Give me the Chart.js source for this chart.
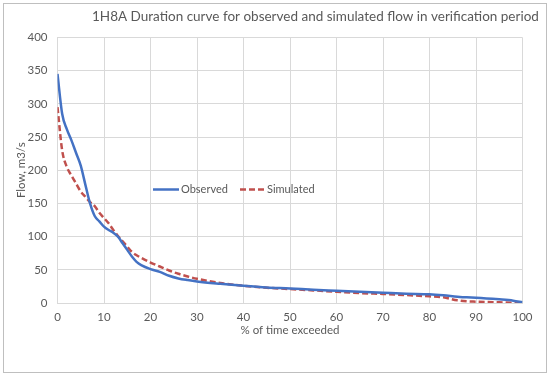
<!DOCTYPE html>
<html>
<head>
<meta charset="utf-8">
<script src="https://cdn.jsdelivr.net/npm/chart.js@4"></script>
<style>
  html, body { margin: 0; padding: 0; background: #fff; }
  #wrap { width: 550px; height: 377px; position: relative; }
</style>
</head>
<body>
<div id="wrap"><canvas id="c" width="550" height="377"></canvas></div>
<script>
// % of time exceeded
const pct       = [0, 1, 2, 3, 4, 5, 6, 7, 8, 9, 10, 11, 12, 13, 14, 15, 16, 17, 18, 20, 22, 24, 26, 28, 30, 35, 40, 45, 50, 55, 60, 65, 70, 75, 80, 83, 86, 88, 90, 95, 98, 100];
// flow, m3/s
const observed  = [345, 285, 262, 245, 226, 207, 178, 150, 131, 123, 115, 110, 106, 100, 90, 80, 70, 62, 57, 51, 47, 41, 37, 34.5, 32.5, 29, 26, 23.5, 22, 20, 18.5, 17, 15.5, 14, 13, 11.5, 9.5, 8.5, 8, 5.5, 3.5, 1];
const simulated = [295, 230, 205, 192, 180, 168, 160, 152, 146, 136, 128, 120, 110, 101, 93, 85, 77, 72, 68, 61, 55, 49, 44, 40, 36.5, 30, 26, 23, 21, 19, 17, 15, 13.6, 12, 10, 8.5, 4, 2.5, 2, 1, 0.5, 0.5];
const xTicks = [0, 10, 20, 30, 40, 50, 60, 70, 80, 90, 100];
const yTicks = [0, 50, 100, 150, 200, 250, 300, 350, 400];

const titleText = '1H8A Duration curve for observed and simulated flow in verification period';
const FONT = 'Lato, "Open Sans", sans-serif';
const GRID = '#d9d9d9';
const TXT = '#595959';

const pts = ys => pct.map((x, i) => ({ x, y: ys[i] }));

// title, legend inside plot, outer border
const decor = {
  id: 'decor',
  afterDraw(chart) {
    const ctx = chart.ctx;
    ctx.save();
    ctx.strokeStyle = '#bfbfbf';
    ctx.lineWidth = 1;
    ctx.strokeRect(3.5, 3.5, 543, 369);

    ctx.fillStyle = TXT;
    ctx.font = '13.5px ' + FONT;
    ctx.textBaseline = 'middle';
    ctx.textAlign = 'left';
    ctx.fillText(titleText, 92, 17);

    // legend
    const ds = chart.data.datasets;
    const items = [{ x0: 153, x1: 179, tx: 181 }, { x0: 240, x1: 264, tx: 267 }];
    ctx.font = '11px ' + FONT;
    items.forEach((it, i) => {
      const d = ds[i];
      ctx.strokeStyle = d.borderColor;
      ctx.lineWidth = d.borderWidth;
      ctx.setLineDash(d.borderDash || []);
      ctx.beginPath();
      ctx.moveTo(it.x0, 189.5);
      ctx.lineTo(it.x1, 189.5);
      ctx.stroke();
      ctx.setLineDash([]);
      ctx.fillStyle = TXT;
      ctx.fillText(d.label, it.tx, 189.5);
    });
    ctx.restore();
  }
};

new Chart(document.getElementById('c'), {
  type: 'line',
  data: {
    datasets: [
      { label: 'Observed', data: pts(observed), borderColor: '#4472c4', borderWidth: 2.5,
        pointRadius: 0, cubicInterpolationMode: 'monotone', fill: false },
      { label: 'Simulated', data: pts(simulated), borderColor: '#c0504d', borderWidth: 2.5,
        borderDash: [6, 3], pointRadius: 0, cubicInterpolationMode: 'monotone', fill: false }
    ]
  },
  options: {
    responsive: false, animation: false,
    layout: { padding: { left: 10, right: 27.5, top: 37.5, bottom: 39 } },
    plugins: { legend: { display: false }, title: { display: false }, tooltip: { enabled: false } },
    scales: {
      x: {
        type: 'linear', min: 0, max: 100,
        afterBuildTicks: s => { s.ticks = xTicks.map(v => ({ value: v })); },
        afterFit: s => { s.height = 35; },
        grid: { color: GRID, drawTicks: false },
        border: { color: GRID },
        ticks: { color: TXT, font: { family: FONT, size: 11.5 }, padding: 7, maxRotation: 0 },
        title: { display: true, text: '% of time exceeded', color: TXT,
                 font: { family: FONT, size: 11.5 }, padding: { top: 0, bottom: 1 } }
      },
      y: {
        min: 0, max: 400,
        afterBuildTicks: s => { s.ticks = yTicks.map(v => ({ value: v })); },
        afterFit: s => { s.width = 47.5; },
        grid: { color: GRID, drawTicks: false },
        border: { color: GRID },
        ticks: { color: TXT, font: { family: FONT, size: 11.5 }, padding: 10 },
        title: { display: true, text: 'Flow, m3/s', color: TXT,
                 font: { family: FONT, size: 11.5 }, padding: { top: 4, bottom: 0 } }
      }
    }
  },
  plugins: [decor]
});
</script>
</body>
</html>
